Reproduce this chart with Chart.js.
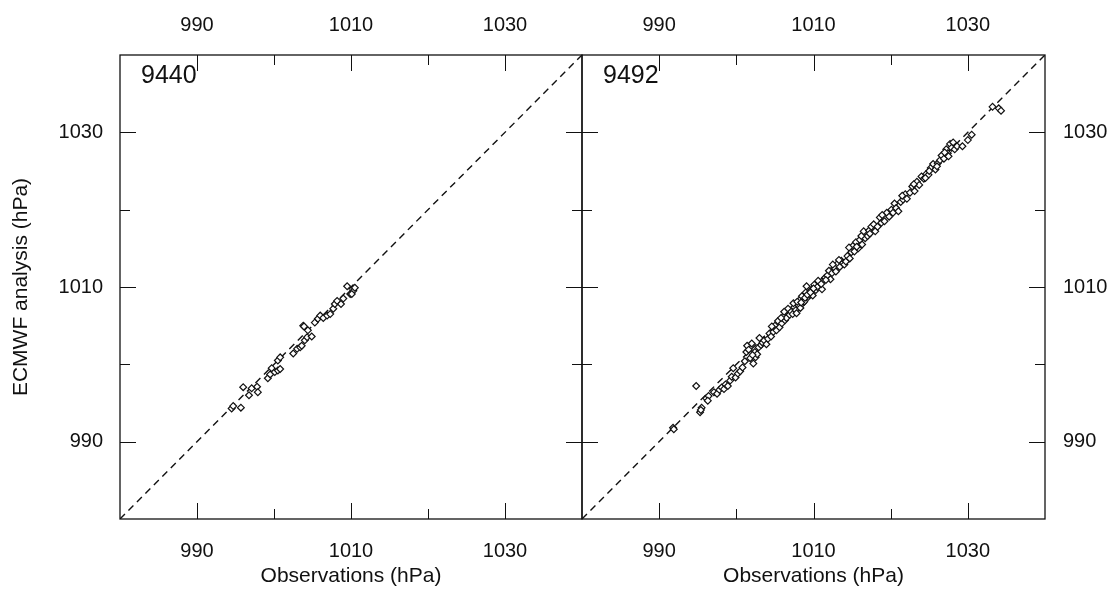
<!DOCTYPE html>
<html>
<head>
<meta charset="utf-8">
<script src="https://cdn.jsdelivr.net/npm/chart.js@4/dist/chart.umd.min.js"></script>
<style>
    html, body { margin: 0; padding: 0; background: #fff; }
    #wrap { position: relative; width: 1116px; height: 589px; }
    canvas { position: absolute; top: 0; }
    #left { left: 0; }
    #right { left: 580px; }
</style>
</head>
<body>
<div id="wrap">
    <canvas id="left" width="584" height="589"></canvas>
    <canvas id="right" width="536" height="589"></canvas>
</div>
<script>
// Surface pressure, station obs vs ECMWF analysis (hPa)
const axisRange  = [980, 1040];
const labelTicks = [990, 1010, 1030];
const minorTicks = [1000, 1020];

// Station 9440
const obs9440 = [994.5, 994.7, 995.7, 996.0, 996.75, 997.1, 997.8, 997.9, 999.2, 999.5, 999.7, 1000.1,
    1000.5, 1000.8, 1000.5, 1000.8, 1002.5, 1003.0, 1003.4, 1003.6, 1004.0, 1004.3, 1004.4, 1003.8,
    1004.9, 1005.3, 1005.7, 1006.0, 1006.4, 1006.9, 1007.3, 1007.7, 1007.9, 1008.2, 1008.7, 1009.0,
    1009.5, 1009.9, 1010.3, 1010.5, 1010.1, 1003.9];
const ana9440 = [994.3, 994.6, 994.4, 997.05, 996.0, 996.9, 997.1, 996.4, 998.2, 998.7, 999.5, 999.0,
    999.2, 999.4, 1000.5, 1000.9, 1001.4, 1002.0, 1002.2, 1002.4, 1003.1, 1003.5, 1004.4, 1005.0,
    1003.6, 1005.4, 1005.9, 1006.3, 1006.0, 1006.3, 1006.5, 1007.2, 1007.8, 1008.2, 1007.8, 1008.5,
    1010.1, 1009.1, 1009.5, 1009.9, 1009.1, 1004.9];

// Station 9492
const obs9492 = [991.8, 991.9, 994.8, 995.3, 995.5, 995.4, 996.1, 996.4, 996.3, 997.1, 997.5, 997.8,
    998.1, 998.4, 998.6, 998.9, 999.2, 999.6, 999.4, 999.9, 1000.2, 1000.5, 1000.8, 1001.1, 1001.3,
    1001.4, 1001.6, 1001.8, 1002.0, 1002.2, 1002.4, 1002.5, 1002.7, 1002.9, 1003.2, 1003.4, 1003.6,
    1003.9, 1004.1, 1004.3, 1004.5, 1004.8, 1005.0, 1005.2, 1005.4, 1005.6, 1005.9, 1006.1, 1006.3,
    1006.5, 1006.7, 1006.9, 1007.1, 1007.3, 1007.5, 1007.7, 1007.8, 1008.0, 1008.2, 1008.3, 1008.5,
    1008.6, 1008.8, 1009.0, 1009.1, 1009.3, 1009.5, 1009.7, 1009.9, 1010.1, 1010.3, 1010.5, 1010.8,
    1011.1, 1011.3, 1011.5, 1011.8, 1012.0, 1012.2, 1012.4, 1012.7, 1012.9, 1013.1, 1013.4, 1013.6,
    1013.8, 1014.0, 1014.2, 1014.4, 1014.7, 1014.9, 1015.1, 1015.3, 1015.5, 1015.8, 1016.0, 1016.3,
    1016.5, 1016.7, 1017.0, 1017.2, 1017.5, 1017.8, 1018.0, 1018.3, 1018.6, 1018.8, 1019.2, 1019.5,
    1019.8, 1020.1, 1020.5, 1020.7, 1021.0, 1021.3, 1021.6, 1021.9, 1022.1, 1022.5, 1022.8, 1023.1,
    1023.4, 1023.7, 1024.0, 1024.3, 1024.6, 1024.9, 1025.2, 1025.5, 1025.8, 1026.1, 1026.4, 1026.6,
    1026.9, 1027.2, 1027.4, 1027.7, 1027.9, 1028.3, 1028.6, 1030.0, 1030.5, 1033.2, 1034.0, 1034.3,
    1002.1, 1003.0, 1004.6, 1005.8, 1006.2, 1007.4, 1007.9, 1008.4, 1008.9, 1009.2, 1009.6, 1010.0,
    1010.6, 1011.0, 1011.6, 1012.5, 1013.3, 1014.6, 1015.6, 1016.2, 1017.3, 1018.9, 1020.3, 1021.5,
    1023.0, 1024.5, 1025.0, 1026.0, 1027.0, 1028.1, 1027.5, 1029.3];
const ana9492 = [991.8, 991.6, 997.2, 993.8, 994.4, 994.1, 995.6, 995.9, 995.3, 996.4, 996.2, 996.7,
    997.0, 996.8, 997.4, 997.2, 997.9, 999.5, 998.4, 998.3, 998.8, 999.1, 999.6, 1000.4, 1001.6,
    1002.4, 1001.9, 1000.8, 1002.7, 1000.1, 1001.6, 1000.9, 1001.3, 1002.2, 1002.5, 1002.8, 1003.1,
    1002.6, 1003.3, 1004.0, 1003.6, 1004.2, 1005.0, 1004.4, 1005.6, 1004.8, 1005.3, 1006.2, 1005.7,
    1006.0, 1007.2, 1006.4, 1006.8, 1006.5, 1007.4, 1007.0, 1006.6, 1007.7, 1008.3, 1007.3, 1008.8,
    1007.9, 1008.1, 1009.3, 1010.1, 1008.7, 1009.0, 1009.6, 1008.9, 1010.3, 1009.6, 1010.0, 1010.6,
    1009.7, 1010.9, 1011.2, 1011.5, 1012.1, 1011.0, 1011.8, 1012.5, 1012.0, 1013.0, 1012.6, 1013.4,
    1013.1, 1012.9, 1013.3, 1014.0, 1013.7, 1014.5, 1015.3, 1014.6, 1015.8, 1015.0, 1016.1, 1015.5,
    1017.2, 1016.3, 1016.6, 1017.3, 1017.8, 1018.1, 1017.2, 1017.8, 1019.0, 1018.3, 1018.5, 1019.6,
    1019.1, 1020.0, 1020.8, 1020.2, 1019.8, 1021.0, 1021.3, 1022.0, 1021.4, 1022.2, 1023.0, 1022.4,
    1023.6, 1023.2, 1024.3, 1024.0, 1024.6, 1024.5, 1025.4, 1025.9, 1025.2, 1026.0, 1026.4, 1027.0,
    1026.6, 1027.8, 1027.3, 1028.5, 1028.0, 1027.8, 1028.2, 1029.0, 1029.7, 1033.3, 1033.1, 1032.8,
    1001.2, 1003.4, 1004.9, 1006.0, 1006.8, 1007.9, 1008.1, 1008.0, 1008.6, 1009.0, 1009.3, 1009.8,
    1010.8, 1010.4, 1010.9, 1012.9, 1013.5, 1015.1, 1015.2, 1016.6, 1016.9, 1019.3, 1019.6, 1021.8,
    1023.3, 1024.1, 1025.0, 1025.6, 1027.4, 1028.7, 1026.9, 1028.2];

const INK = "#111";
const FONT = "'Liberation Sans', Arial, sans-serif";

// frame, inward tick marks on all four sides, station number
const framePlugin = {
    id: "frameTicks",
    afterDatasetsDraw(chart, args, opts) {
        const { ctx, chartArea: a, scales: { x, y } } = chart;
        ctx.save();
        ctx.strokeStyle = INK;
        ctx.lineWidth = 1.3;
        ctx.strokeRect(a.left, a.top, a.right - a.left, a.bottom - a.top);

        ctx.lineWidth = 1;
        const marks = labelTicks.map(v => [v, 16]).concat(minorTicks.map(v => [v, 10]));
        ctx.beginPath();
        marks.forEach(([v, len]) => {
            const px = Math.round(x.getPixelForValue(v)) + 0.5;
            const py = Math.round(y.getPixelForValue(v)) + 0.5;
            ctx.moveTo(px, a.bottom); ctx.lineTo(px, a.bottom - len);
            ctx.moveTo(px, a.top);    ctx.lineTo(px, a.top + len);
            ctx.moveTo(a.left, py);   ctx.lineTo(a.left + len, py);
            ctx.moveTo(a.right, py);  ctx.lineTo(a.right - len, py);
        });
        ctx.stroke();

        ctx.fillStyle = INK;
        ctx.font = "25px " + FONT;
        ctx.textBaseline = "middle";
        ctx.fillText(opts.station, a.left + 21, a.top + 21);
        ctx.restore();
    }
};

function fixedTicks(scale) {
    scale.ticks = labelTicks.map(v => ({ value: v }));
}

const tickFont = { family: FONT, size: 20 };
const titleFont = { family: FONT, size: 21 };

function xAxis(position, size, pad, title) {
    return {
        type: "linear",
        position: position,
        min: axisRange[0],
        max: axisRange[1],
        afterBuildTicks: fixedTicks,
        afterFit: s => { s.height = size; },
        grid: { display: false, drawTicks: false },
        border: { display: false },
        ticks: { color: INK, font: tickFont, padding: pad, autoSkip: false, maxRotation: 0, callback: v => String(v) },
        title: { display: !!title, text: title || "", color: INK, font: titleFont, padding: { top: 0, bottom: 0 } }
    };
}

function yAxis(position, size, pad, title) {
    return {
        type: "linear",
        position: position,
        min: axisRange[0],
        max: axisRange[1],
        afterBuildTicks: fixedTicks,
        afterFit: s => { s.width = size; },
        grid: { display: false, drawTicks: false },
        border: { display: false },
        ticks: { color: INK, font: tickFont, padding: pad, autoSkip: false, callback: v => String(v) },
        title: { display: !!title, text: title || "", color: INK, font: titleFont, padding: { top: 9, bottom: 0 } }
    };
}

function makePanel(id, obs, ana, station, yScale, layoutPadding) {
    const points = obs.map((v, i) => ({ x: v, y: ana[i] }));
    const diagonal = axisRange.map(v => ({ x: v, y: v }));

    return new Chart(document.getElementById(id), {
        type: "scatter",
        data: {
            datasets: [
                {
                    data: points,
                    pointStyle: "rectRot",
                    pointRadius: 3.4,
                    borderWidth: 1.2,
                    borderColor: INK,
                    backgroundColor: "#fff",
                    xAxisID: "x",
                    yAxisID: "y"
                },
                {
                    data: diagonal,
                    showLine: true,
                    borderColor: INK,
                    borderWidth: 1.4,
                    borderDash: [7, 5],
                    pointRadius: 0,
                    xAxisID: "x",
                    yAxisID: "y"
                }
            ]
        },
        options: {
            responsive: false,
            animation: false,
            layout: { padding: layoutPadding, autoPadding: false },
            plugins: {
                legend: { display: false },
                tooltip: { enabled: false },
                frameTicks: { station: station }
            },
            scales: {
                x: xAxis("bottom", 70, 20, "Observations (hPa)"),
                x2: xAxis("top", 55, 18, null),
                y: yScale
            }
        },
        plugins: [framePlugin]
    });
}

makePanel("left", obs9440, ana9440, "9440", yAxis("left", 120, 17, "ECMWF analysis (hPa)"), { right: 2 });
makePanel("right", obs9492, ana9492, "9492", yAxis("right", 71, 18, null), { left: 2 });
</script>
</body>
</html>
